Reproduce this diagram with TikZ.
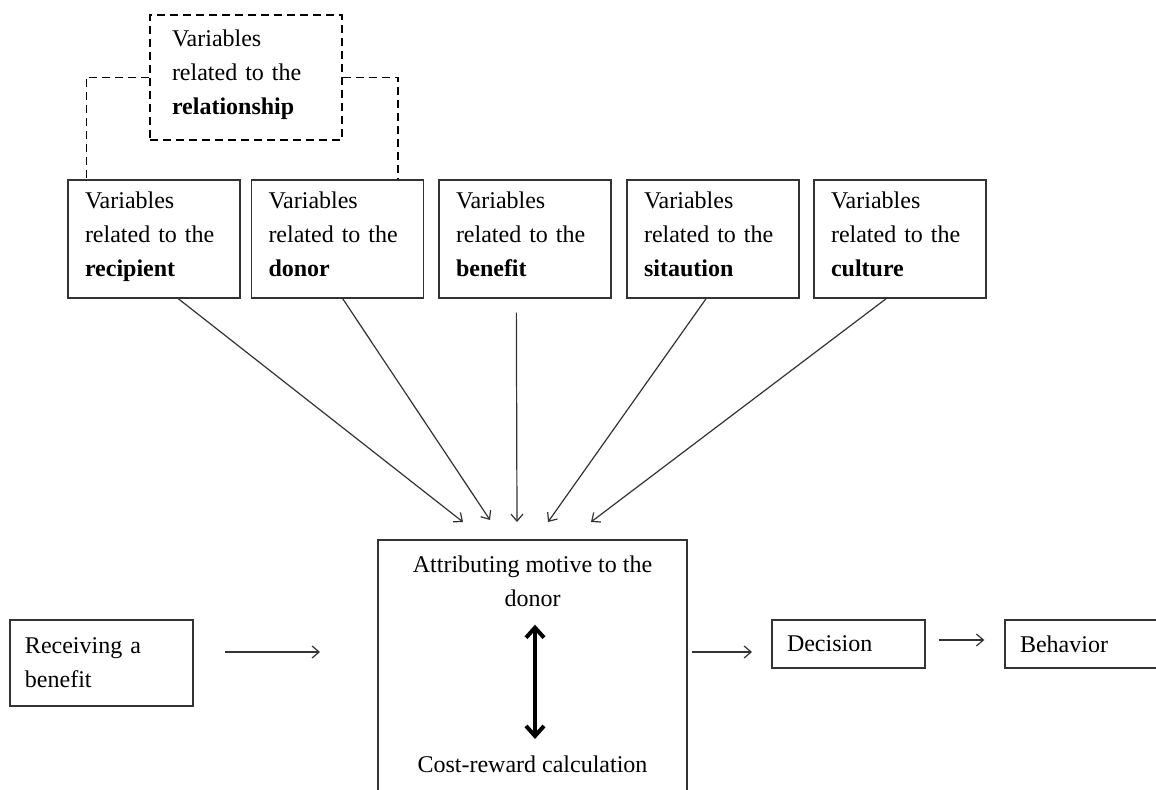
\documentclass[tikz,border=0pt]{standalone}
\usepackage{fontspec}
\setmainfont{Liberation Serif}
\usetikzlibrary{arrows.meta,calc}
\tikzset{
    var-box/.style = {draw=black!80, line width=0.7pt, rectangle, align=left, text width=69pt, inner xsep=8.5pt, minimum height=59pt, font=\fontsize{12}{17}\selectfont, execute at end node=\strut},
    rel-box/.style = {draw=black, line width=0.7pt, dash pattern=on 4pt off 2.5pt, rectangle, align=left, text width=74pt, inner xsep=11pt, minimum height=62.5pt, font=\fontsize{12}{17}\selectfont, execute at end node=\strut},
    step-box/.style = {draw=black!80, line width=0.7pt, rectangle, align=left, inner xsep=7.5pt, font=\fontsize{12}{17}\selectfont},
    plain-text/.style = {align=center, inner sep=0pt, font=\fontsize{12}{17}\selectfont},
    thin-arrow/.style = {draw=black!80, line width=0.6pt, -{Straight Barb[length=3.5pt,width=6pt]}},
    thick-arrow/.style = {line width=2pt, {Straight Barb[length=5pt,width=9pt]}-{Straight Barb[length=5pt,width=9pt]}},
    dash-line/.style = {line width=0.8pt, dash pattern=on 4pt off 2.5pt},
}
\begin{document}
\begin{tikzpicture}[x=0.5pt,y=-0.5pt]
\clip (0,0) rectangle (1156,790);
\fill[white] (0,0) rectangle (1156,790);
\node[rel-box] (rel) at (246,77.5) {Variables\\related to the\\\textbf{relationship}};
\node[var-box] (recip) at (154,239) {Variables\\related to the\\\textbf{recipient}};
\node[var-box] (donor) at (337.5,239) {Variables\\related to the\\\textbf{donor}};
\node[var-box] (benef) at (525,239) {Variables\\related to the\\\textbf{benefit}};
\node[var-box] (situ) at (713,239) {Variables\\related to the\\\textbf{sitaution}};
\node[var-box] (cult) at (900,239) {Variables\\related to the\\\textbf{culture}};
\draw[dash-line] (rel.west) -| ($(recip.north west)+(19,0)$);
\draw[dash-line] (rel.east) -| ($(donor.north east)+(-26,0)$);
\node[draw=black!80, line width=0.7pt, minimum width=154.5pt, minimum height=130pt] (mid) at (532.5,670) {};
\node[plain-text, anchor=north] (motive) at (532.5,555) {Attributing motive to the\\donor};
\node[plain-text, anchor=base] (cost) at (532.5,772) {Cost-reward calculation};
\draw[thick-arrow, shorten <=9pt, shorten >=8pt] (motive.south -| 535,0) -- (cost.north -| 535,0);
\coordinate (in-a) at (463,522);
\coordinate (in-b) at (490,520);
\coordinate (in-c) at (517,522);
\coordinate (in-d) at (548,522);
\coordinate (in-e) at (591,522);
\draw[thin-arrow] ($(recip.south west)!0.64!(recip.south east)$) -- (in-a);
\draw[thin-arrow] ($(donor.south west)!0.53!(donor.south east)$) -- (in-b);
\draw[thin-arrow, shorten <=7pt] ($(benef.south west)!0.45!(benef.south east)$) -- (in-c);
\draw[thin-arrow] ($(situ.south west)!0.46!(situ.south east)$) -- (in-d);
\draw[thin-arrow] ($(cult.south west)!0.42!(cult.south east)$) -- (in-e);
\node[step-box, text width=76.5pt, minimum height=43pt] (recv) at (101.5,663) {Receiving a\\benefit};
\node[step-box, text width=61.5pt, minimum height=24pt] (dec) at (848.5,644) {Decision};
\node[step-box, text width=61.5pt, minimum height=24pt] (beh) at (1081.5,644) {Behavior};
\coordinate (recv-out) at (225,652);
\coordinate (mid-in) at (320,652);
\coordinate (mid-out) at (692,652);
\coordinate (dec-in) at (752,652);
\draw[thin-arrow] (recv-out) -- (mid-in);
\draw[thin-arrow] (mid-out) -- (dec-in);
\draw[thin-arrow, shorten <=6.5pt, shorten >=10pt] (dec.east |- 0,640) -- (beh.west |- 0,640);
\end{tikzpicture}
\end{document}
